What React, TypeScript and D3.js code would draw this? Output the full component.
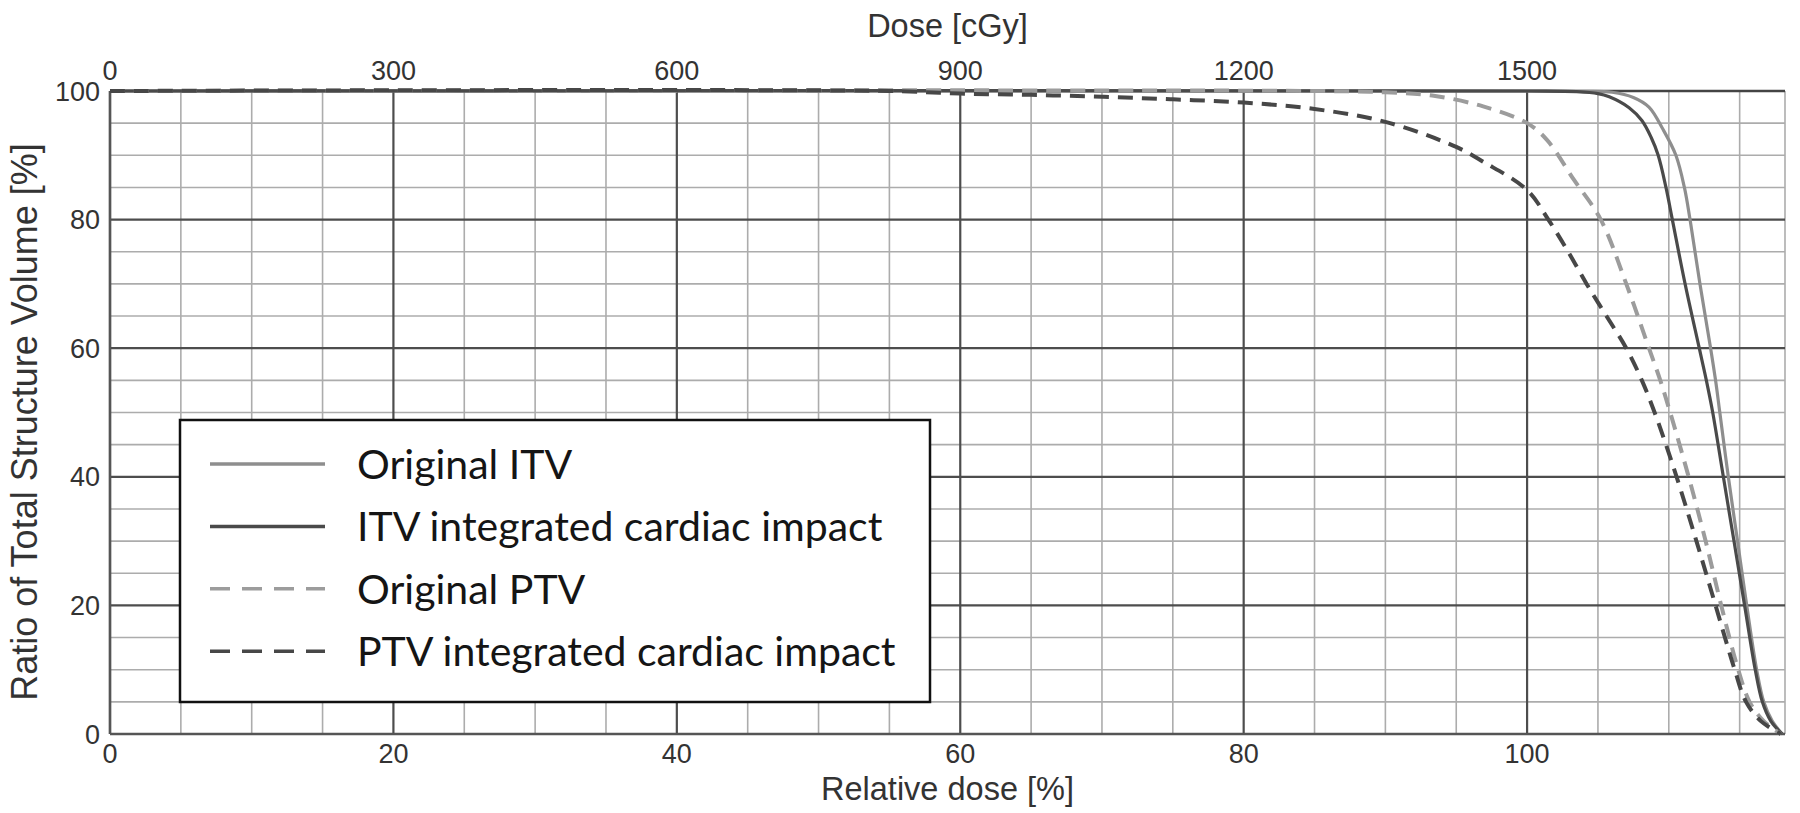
import React from "react";
import * as d3 from "d3";

// Relative dose [%] vs ratio of total structure volume [%]
const originalITV: [number, number][] = [
  [0, 100], [100, 100], [104, 99.95], [106, 99.8], [107.5, 99], [108.6, 97.5], [109.6, 94],
  [110.5, 90], [111.1, 85], [111.5, 80], [112.2, 70], [112.95, 60], [113.3, 55], [113.6, 50],
  [114.2, 40], [114.85, 30], [115.5, 20], [116.2, 10], [116.7, 5], [117.3, 2], [118, 0],
];
const itvIntegrated: [number, number][] = [
  [0, 100], [100, 100], [103.5, 99.9], [105, 99.6], [105.8, 99.1], [107.2, 97.4], [108.1, 95.4],
  [108.75, 92.8], [109.25, 90], [109.8, 85], [110.25, 80], [111.15, 70], [112.15, 60], [112.65, 55],
  [113.1, 50], [113.85, 40], [114.6, 30], [115.35, 20], [116.1, 10], [116.6, 5], [117.2, 2], [118, 0],
];
const originalPTV: [number, number][] = [
  [0, 100], [85, 100], [90, 99.8], [93.3, 99.3], [96.9, 97.6], [100, 95], [101.4, 92.4],
  [103.3, 86.2], [105.2, 80], [107, 70], [108.6, 60], [109.4, 55], [110.1, 50], [111.4, 40],
  [112.6, 30], [113.7, 20], [114.9, 10], [115.7, 5], [116.7, 2], [117.9, 0],
];
const ptvIntegrated: [number, number][] = [
  [0, 100], [55, 100], [60, 99.6], [65, 99.4], [70, 99.1], [75, 98.7], [80, 98.2], [85, 97.2],
  [90, 95.2], [95, 91.3], [96.9, 89], [100, 84.6], [101.5, 80], [102.9, 75], [104.2, 70],
  [105.6, 65], [107, 60], [108.1, 55], [109, 50], [109.8, 45], [110.55, 40], [111.95, 30],
  [113.3, 20], [114.65, 10], [115.45, 5], [116.5, 2], [117.9, 0],
];

const bottomTicks = [0, 20, 40, 60, 80, 100];
const topTicks = [0, 300, 600, 900, 1200, 1500];
const yTicks = [0, 20, 40, 60, 80, 100];
const legendLabels = [
  "Original ITV",
  "ITV integrated cardiac impact",
  "Original PTV",
  "PTV integrated cardiac impact",
];

const W = 1800;
const H = 813;
const L = 110, R = 1785, T = 91, B = 734;
const xMax = 118.2;

export default function App() {
  const x = d3.scaleLinear().domain([0, xMax]).range([L, R]);
  const xTop = d3.scaleLinear().domain([0, xMax * 15]).range([L, R]);
  const y = d3.scaleLinear().domain([0, 100]).range([B, T]);
  const line = d3
    .line<[number, number]>()
    .x((d) => x(d[0]))
    .y((d) => y(d[1]))
    .curve(d3.curveCatmullRom.alpha(0.5));

  const vGrid = d3.range(0, xMax, 5);
  const hGrid = d3.range(0, 101, 5);

  const series = [
    { data: originalITV, color: "#8e8e8e", width: 3.2, dash: null, legDash: null },
    { data: itvIntegrated, color: "#4a4a4a", width: 3.2, dash: null, legDash: null },
    { data: originalPTV, color: "#9c9c9c", width: 4, dash: "15,9", legDash: "20,12" },
    { data: ptvIntegrated, color: "#474747", width: 4, dash: "15,9", legDash: "20,12" },
  ];

  const axisFont = "'Liberation Sans', Arial, sans-serif";
  const legX0 = 180, legY0 = 420, legX1 = 930, legY1 = 702;
  const rowY = (i: number) => 464 + i * 62.4;

  return (
    <div style={{ position: "absolute", left: 0, top: 0 }}>
      <svg width={W} height={H} style={{ display: "block", background: "#fff" }}>
        <rect x={0} y={0} width={W} height={H} fill="#fff" />
        {/* minor grid */}
        {vGrid.filter((v) => v % 20 !== 0).map((v) => (
          <line key={"vm" + v} x1={x(v)} x2={x(v)} y1={T} y2={B} stroke="#acacac" strokeWidth={1.6} />
        ))}
        <line x1={R} x2={R} y1={T} y2={B} stroke="#acacac" strokeWidth={1.6} />
        {hGrid.filter((v) => v % 20 !== 0).map((v) => (
          <line key={"hm" + v} x1={L} x2={R} y1={y(v)} y2={y(v)} stroke="#acacac" strokeWidth={1.6} />
        ))}
        {/* major grid */}
        {vGrid.filter((v) => v % 20 === 0).map((v) => (
          <line key={"vM" + v} x1={x(v)} x2={x(v)} y1={T} y2={B} stroke="#4d4d4d" strokeWidth={2.2} />
        ))}
        {hGrid.filter((v) => v % 20 === 0).map((v) => (
          <line key={"hM" + v} x1={L} x2={R} y1={y(v)} y2={y(v)} stroke="#4d4d4d" strokeWidth={2.2} />
        ))}
        <line x1={L} x2={R} y1={T} y2={T} stroke="#444" strokeWidth={2.5} />
        <line x1={L} x2={R} y1={B} y2={B} stroke="#555" strokeWidth={2.5} />
        <line x1={L} x2={L} y1={T} y2={B} stroke="#555" strokeWidth={2.5} />

        {/* curves */}
        {series.map((s, i) => (
          <path
            key={"s" + i}
            d={line(s.data) || ""}
            fill="none"
            stroke={s.color}
            strokeWidth={s.width}
            strokeDasharray={s.dash || undefined}
          />
        ))}

        {/* tick labels */}
        <g fontFamily={axisFont} fontSize={27} fill="#333">
          {bottomTicks.map((t) => (
            <text key={"b" + t} x={x(t)} y={763} textAnchor="middle">{t}</text>
          ))}
          {topTicks.map((t) => (
            <text key={"t" + t} x={xTop(t)} y={80} textAnchor="middle">{t}</text>
          ))}
          {yTicks.map((t) => (
            <text key={"y" + t} x={100} y={y(t) + 9.5} textAnchor="end">{t}</text>
          ))}
        </g>
        <g fontFamily={axisFont} fill="#333">
          <text x={(L + R) / 2} y={800} textAnchor="middle" fontSize={32.5}>Relative dose [%]</text>
          <text x={(L + R) / 2} y={37} textAnchor="middle" fontSize={32.5}>Dose [cGy]</text>
          <text
            transform={`translate(37, 422) rotate(-90)`}
            textAnchor="middle"
            fontSize={36}
          >
            Ratio of Total Structure Volume [%]
          </text>
        </g>

        {/* legend */}
        <rect x={legX0} y={legY0} width={legX1 - legX0} height={legY1 - legY0} fill="#fff" stroke="#111" strokeWidth={2.5} />
        {series.map((s, i) => (
          <g key={"l" + i}>
            <line
              x1={210}
              x2={325}
              y1={rowY(i)}
              y2={rowY(i)}
              stroke={s.color}
              strokeWidth={3.5}
              strokeDasharray={s.legDash || undefined}
            />
            <text x={357} y={rowY(i) + 15} fontFamily="Lato, 'Open Sans', sans-serif" fontSize={41} fill="#151515">
              {legendLabels[i]}
            </text>
          </g>
        ))}
      </svg>
    </div>
  );
}
